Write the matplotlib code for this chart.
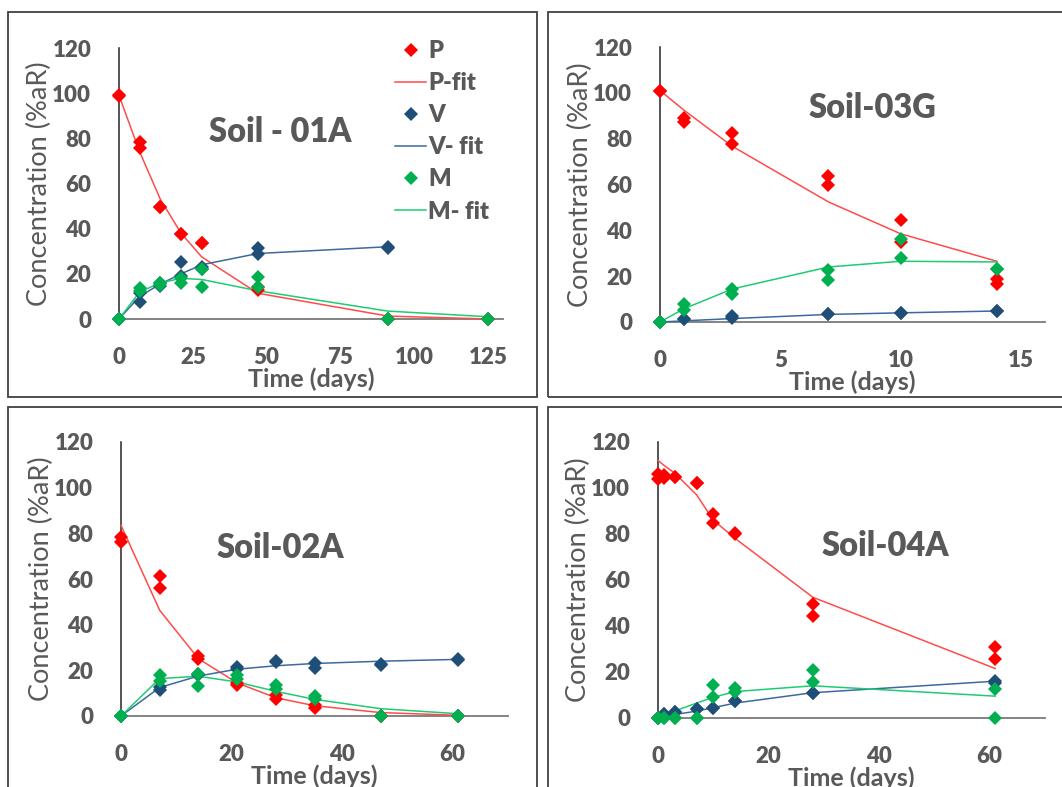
import matplotlib
matplotlib.use("Agg")
import matplotlib.pyplot as plt
from matplotlib.patches import Rectangle

plt.rcParams['font.family'] = ['Lato', 'DejaVu Sans']

# Farben
ROT = '#FF0000'
NAVY = '#1F4E79'
GRUEN = '#00B050'
ROT_FIT = '#FF4B4B'
BLAU_FIT = '#3C6A9C'
GRUEN_FIT = '#1FCB73'
GRAU = '#595959'

# ---- Soil - 01A ----
s1_p_t = [0, 0, 7, 7, 14, 14, 21, 21, 28, 28, 47, 47, 91, 91, 125, 125]
s1_p_c = [99, 98.6, 78.4, 75.8, 49.7, 49.5, 37.6, 37.6, 33.5, 33.5, 14, 12.8, 0, 0, 0, 0]
s1_pfit_t = [0, 7, 14, 21, 28, 47, 91, 125]
s1_pfit_c = [99, 74, 53, 38, 27.5, 11.4, 1.3, 0]
s1_v_t = [0, 0, 7, 7, 14, 14, 21, 21, 28, 28, 47, 47, 91, 91]
s1_v_c = [0, 0, 7.7, 11.4, 14.6, 15.8, 25.4, 19, 23, 22, 31.5, 28.7, 32, 31.3]
s1_vfit_t = [0, 7, 14, 21, 28, 47, 91]
s1_vfit_c = [0, 10, 15.5, 20, 24, 29, 32]
s1_m_t = [0, 0, 7, 7, 14, 14, 21, 21, 28, 28, 47, 47, 91, 91, 125, 125]
s1_m_c = [0, 0, 13.6, 12.4, 15.8, 15, 18, 15.8, 22, 14, 18.4, 14, 0, 0, 0, 0]
s1_mfit_t = [0, 7, 14, 21, 28, 47, 91, 125]
s1_mfit_c = [0, 12, 16, 18, 17.5, 12.5, 3.5, 1]

# ---- Soil-03G ----
s3_p_t = [0, 0, 1, 1, 3, 3, 7, 7, 10, 10, 14, 14]
s3_p_c = [101, 101, 89.2, 87.3, 82.5, 77.8, 63.7, 59.6, 44.4, 34.9, 18.6, 16.4]
s3_pfit_t = [0, 1, 3, 7, 10, 14]
s3_pfit_c = [101, 92.4, 76.7, 52.4, 38.5, 26.5]
s3_v_t = [0, 0, 1, 1, 3, 3, 7, 7, 10, 10, 14, 14]
s3_v_c = [0, 0, 1.5, 1.2, 2.5, 1.9, 3.6, 3.6, 4.1, 4.1, 4.8, 4.8]
s3_vfit_t = [0, 1, 3, 7, 10, 14]
s3_vfit_c = [0, 0.5, 1.5, 3.3, 4, 4.8]
s3_m_t = [0, 0, 1, 1, 3, 3, 7, 7, 10, 10, 14, 14]
s3_m_c = [0, 0, 7.7, 5.4, 14.4, 12.1, 22.8, 18.5, 36.4, 27.9, 23.1, 23.1]
s3_mfit_t = [0, 1, 3, 7, 10, 14]
s3_mfit_c = [0, 5.8, 14.4, 24, 26.5, 26.2]

# ---- Soil-02A ----
s2_p_t = [0, 0, 7, 7, 14, 14, 21, 21, 28, 28, 35, 35, 47, 47, 61, 61]
s2_p_c = [78.4, 76.2, 61.5, 56, 26.1, 25.1, 14.6, 13.7, 9, 7.3, 4.7, 3.5, 0, 0, 0, 0]
s2_pfit_t = [0, 7, 14, 21, 28, 35, 47, 61]
s2_pfit_c = [83.5, 46.3, 25.1, 14.5, 8, 4.5, 1.5, 0.3]
s2_v_t = [0, 0, 7, 7, 14, 14, 21, 21, 28, 28, 35, 35, 47, 47, 61, 61]
s2_v_c = [0, 0, 11.2, 12.7, 17.8, 18.5, 21.5, 20.7, 23.6, 24, 23.2, 21, 22.5, 22.9, 24.4, 24.8]
s2_vfit_t = [0, 7, 14, 21, 28, 35, 47, 61]
s2_vfit_c = [0, 12.5, 17.5, 20.5, 22, 23, 24, 24.8]
s2_m_t = [0, 0, 7, 7, 14, 14, 21, 21, 28, 28, 35, 35, 47, 47, 61, 61]
s2_m_c = [0, 0, 17.8, 15.2, 18.5, 13.1, 18.1, 16.4, 13.4, 12, 8.6, 7.3, 0, 0, 0, 0]
s2_mfit_t = [0, 7, 14, 21, 28, 35, 47, 61]
s2_mfit_c = [0, 16.4, 17.4, 14.9, 10.8, 7.3, 3.2, 1]

# ---- Soil-04A ----
s4_p_t = [0, 0, 1, 1, 3, 3, 7, 7, 10, 10, 14, 14, 28, 28, 61, 61]
s4_p_c = [106.2, 104, 105.8, 104.3, 104.9, 104.9, 102.2, 102.2, 88.8, 84.9, 80.6, 80.1, 49.6, 44.5, 30.9, 25.8]
s4_pfit_t = [0, 1, 3, 7, 10, 14, 28, 61]
s4_pfit_c = [112, 110, 106.5, 97, 86, 78, 52.5, 21.5]
s4_v_t = [0, 0, 1, 1, 3, 3, 7, 7, 10, 10, 14, 14, 28, 28, 61, 61]
s4_v_c = [0, 0, 1.9, 1.9, 2.6, 2.6, 3.8, 3.8, 4.3, 4.3, 7.2, 7.2, 11, 11, 15.9, 15.4]
s4_vfit_t = [0, 1, 3, 7, 10, 14, 28, 61]
s4_vfit_c = [0, 0.7, 1.5, 3, 4.5, 6.5, 11, 16]
s4_m_t = [0, 0, 1, 1, 3, 3, 7, 7, 10, 10, 14, 14, 28, 28, 61, 61]
s4_m_c = [0, 0, 0, 0, 0, 0, 0, 0, 14.5, 9.1, 13, 11.3, 21, 15.7, 12.5, 0]
s4_mfit_t = [0, 1, 3, 7, 10, 14, 28, 61]
s4_mfit_c = [0, 0.8, 3, 6.5, 9, 11.5, 14, 9.5]

W, H = 1062, 787


def px_axes(fig, x0, x1, y0, y1):
    # Pixel-Koordinaten (oben links) -> Figure-Anteile
    return fig.add_axes([x0 / W, (H - y0) / H, (x1 - x0) / W, (y0 - y1) / H])


def panel(ax, daten, xmax, xticks, titel, titel_pos, legende=False):
    (p_t, p_c, pf_t, pf_c, v_t, v_c, vf_t, vf_c, m_t, m_c, mf_t, mf_c) = daten
    ms = 7.3
    ax.plot(p_t, p_c, 'D', color=ROT, ms=ms, mew=0, label='P', zorder=4)
    ax.plot(pf_t, pf_c, '-', color=ROT_FIT, lw=1.1, label='P-fit', zorder=3)
    ax.plot(v_t, v_c, 'D', color=NAVY, ms=ms, mew=0, label='V', zorder=4)
    ax.plot(vf_t, vf_c, '-', color=BLAU_FIT, lw=1.1, label='V- fit', zorder=3)
    ax.plot(m_t, m_c, 'D', color=GRUEN, ms=ms, mew=0, label='M', zorder=5)
    ax.plot(mf_t, mf_c, '-', color=GRUEN_FIT, lw=1.1, label='M- fit', zorder=3)

    ax.set_xlim(0, xmax)
    ax.set_ylim(0, 120)
    ax.set_xticks(xticks)
    ax.set_yticks(range(0, 121, 20))
    ax.tick_params(length=0, labelsize=16, labelcolor=GRAU)
    ax.tick_params(axis='y', pad=20)
    ax.tick_params(axis='x', pad=20)
    for lab in ax.get_xticklabels() + ax.get_yticklabels():
        lab.set_fontweight('heavy')
    for s in ['top', 'right']:
        ax.spines[s].set_visible(False)
    ax.spines['left'].set_color('#262626')
    ax.spines['bottom'].set_color('#7a7a7a')
    ax.spines['left'].set_linewidth(1.1)
    ax.spines['bottom'].set_linewidth(1.3)
    ax.patch.set_alpha(0)
    for ln in ax.lines:
        ln.set_clip_on(False)

    # Achsentitel: rechte Kante des y-Titels etwa 67 px links der Achse
    breite_px = ax.get_position().width * W
    ax.set_ylabel('Concentration (%aR)', fontsize=19.5, color=GRAU)
    ax.yaxis.set_label_coords(-67 / breite_px, 0.5)
    ax.set_xlabel('Time (days)', fontsize=18, color=GRAU, fontweight='bold', labelpad=0)
    ax.text(titel_pos[0], titel_pos[1], titel, fontsize=23.5, fontweight='heavy',
            color=GRAU, ha='center', va='center')

    if legende:
        leg = ax.legend(loc='upper left', bbox_to_anchor=((386 - 119) / breite_px, 1.065),
                        frameon=False, fontsize=17, handlelength=1.3, handletextpad=0.1,
                        labelspacing=0.43, borderaxespad=0)
        for t in leg.get_texts():
            t.set_color(GRAU)
            t.set_fontweight('heavy')


fig = plt.figure(figsize=(W / 100, H / 100), dpi=100)

# Rahmen um die vier Diagramme
for (x0, y0, x1, y1) in [(8, 12, 537, 397), (548, 12, 1075, 397),
                         (8, 407, 537, 800), (548, 407, 1075, 800)]:
    fig.patches.append(Rectangle((x0 / W, (H - y1) / H), (x1 - x0) / W, (y1 - y0) / H,
                                 transform=fig.transFigure, fill=False,
                                 edgecolor='#404040', lw=1.3))

ax1 = px_axes(fig, 119, 503, 319, 48)
panel(ax1, (s1_p_t, s1_p_c, s1_pfit_t, s1_pfit_c, s1_v_t, s1_v_c, s1_vfit_t, s1_vfit_c,
            s1_m_t, s1_m_c, s1_mfit_t, s1_mfit_c),
      130, [0, 25, 50, 75, 100, 125], 'Soil - 01A', (54.7, 82.7), legende=True)

ax2 = px_axes(fig, 660, 1045, 322, 47)
panel(ax2, (s3_p_t, s3_p_c, s3_pfit_t, s3_pfit_c, s3_v_t, s3_v_c, s3_vfit_t, s3_vfit_c,
            s3_m_t, s3_m_c, s3_mfit_t, s3_mfit_c),
      16, [0, 5, 10, 15], 'Soil-03G', (8.84, 93.4))

ax3 = px_axes(fig, 121, 508, 716, 442)
panel(ax3, (s2_p_t, s2_p_c, s2_pfit_t, s2_pfit_c, s2_v_t, s2_v_c, s2_vfit_t, s2_vfit_c,
            s2_m_t, s2_m_c, s2_mfit_t, s2_mfit_c),
      70, [0, 20, 40, 60], 'Soil-02A', (28.9, 73.6))

ax4 = px_axes(fig, 658, 1045, 718, 442)
panel(ax4, (s4_p_t, s4_p_c, s4_pfit_t, s4_pfit_c, s4_v_t, s4_v_c, s4_vfit_t, s4_vfit_c,
            s4_m_t, s4_m_c, s4_mfit_t, s4_mfit_c),
      70, [0, 20, 40, 60], 'Soil-04A', (41.2, 74.8))

fig.savefig('out.png', dpi=100)
